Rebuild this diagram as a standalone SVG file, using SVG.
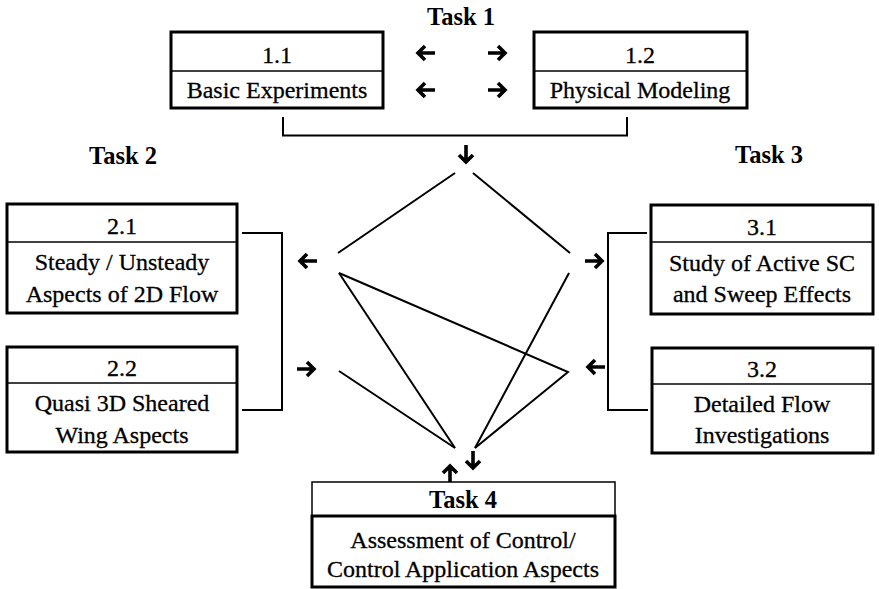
<svg xmlns="http://www.w3.org/2000/svg" xmlns:xlink="http://www.w3.org/1999/xlink" width="879" height="589" viewBox="0 0 879 589">
<style>
  .box{fill:#fff;stroke:#000;stroke-width:3}
  .thin{fill:#fff;stroke:#000;stroke-width:1.5}
  .div{stroke:#000;stroke-width:1.5}
  .t{font-size:24px;fill:#000;stroke:#000;stroke-width:0.3;text-anchor:middle}
  .b{font-size:24.5px;font-weight:bold;fill:#000;text-anchor:middle}
  .ln{fill:none;stroke:#000;stroke-width:2}
  .ar{fill:none;stroke:#000;stroke-width:3.6;stroke-linejoin:miter}
</style>
<defs>
  <path id="arr" class="ar" d="M-10,0 H6 M0,-7 L7,0 L0,7"/>
</defs>
<rect width="879" height="589" fill="#fff"/>

<text class="b" font-family="Liberation Serif, serif" x="461" y="25">Task 1</text>
<text class="b" font-family="Liberation Serif, serif" x="123" y="164">Task 2</text>
<text class="b" font-family="Liberation Serif, serif" x="769" y="163">Task 3</text>

<g id="n11">
  <rect class="box" x="171" y="32" width="212" height="76"/>
  <line class="div" x1="171" y1="71" x2="383" y2="71"/>
  <text class="t" font-family="Liberation Serif, serif" x="277" y="63">1.1</text>
  <text class="t" font-family="Liberation Serif, serif" x="277" y="98">Basic Experiments</text>
</g>
<g id="n12">
  <rect class="box" x="534" y="32" width="213" height="76"/>
  <line class="div" x1="534" y1="71" x2="747" y2="71"/>
  <text class="t" font-family="Liberation Serif, serif" x="640" y="63">1.2</text>
  <text class="t" font-family="Liberation Serif, serif" x="640" y="98">Physical Modeling</text>
</g>
<g id="n21">
  <rect class="box" x="7" y="204" width="230" height="109"/>
  <line class="div" x1="7" y1="242" x2="237" y2="242"/>
  <text class="t" font-family="Liberation Serif, serif" x="122" y="234">2.1</text>
  <text class="t" font-family="Liberation Serif, serif" x="122" y="270">Steady / Unsteady</text>
  <text class="t" font-family="Liberation Serif, serif" x="122" y="302">Aspects of 2D Flow</text>
</g>
<g id="n22">
  <rect class="box" x="7" y="347" width="230" height="105"/>
  <line class="div" x1="7" y1="383" x2="237" y2="383"/>
  <text class="t" font-family="Liberation Serif, serif" x="122" y="376">2.2</text>
  <text class="t" font-family="Liberation Serif, serif" x="122" y="411">Quasi 3D Sheared</text>
  <text class="t" font-family="Liberation Serif, serif" x="122" y="443">Wing Aspects</text>
</g>
<g id="n31">
  <rect class="box" x="651" y="205" width="222" height="109"/>
  <line class="div" x1="651" y1="242" x2="873" y2="242"/>
  <text class="t" font-family="Liberation Serif, serif" x="762" y="235">3.1</text>
  <text class="t" font-family="Liberation Serif, serif" x="762" y="271">Study of Active SC</text>
  <text class="t" font-family="Liberation Serif, serif" x="762" y="302">and Sweep Effects</text>
</g>
<g id="n32">
  <rect class="box" x="652" y="348" width="221" height="105"/>
  <line class="div" x1="652" y1="384" x2="873" y2="384"/>
  <text class="t" font-family="Liberation Serif, serif" x="762" y="377">3.2</text>
  <text class="t" font-family="Liberation Serif, serif" x="762" y="412">Detailed Flow</text>
  <text class="t" font-family="Liberation Serif, serif" x="762" y="443">Investigations</text>
</g>
<g id="n4">
  <rect class="thin" x="312" y="482" width="303" height="34"/>
  <rect class="box" x="312" y="516" width="303" height="71"/>
  <text class="b" font-family="Liberation Serif, serif" x="463" y="508">Task 4</text>
  <text class="t" font-family="Liberation Serif, serif" x="463" y="548">Assessment of Control/</text>
  <text class="t" font-family="Liberation Serif, serif" x="463" y="577">Control Application Aspects</text>
</g>

<g id="connectors">
  <path class="ln" d="M283,117 V135.5 H627 V117"/>
  <path class="ln" d="M242,233 H282 V410 H242"/>
  <path class="ln" d="M647,233 H608 V410 H648"/>
  <path class="ln" d="M455,173 L338,253"/>
  <path class="ln" d="M473,173 L570,253"/>
  <path class="ln" d="M339,273 L455,448"/>
  <path class="ln" d="M339,273 L568,372 L475,448"/>
  <path class="ln" d="M569,273 L475,448"/>
  <path class="ln" d="M339,371 L455,448"/>

  <use xlink:href="#arr" transform="translate(425,53) rotate(180)"/>
  <use xlink:href="#arr" transform="translate(425,90) rotate(180)"/>
  <use xlink:href="#arr" transform="translate(498,53)"/>
  <use xlink:href="#arr" transform="translate(498,90)"/>
  <use xlink:href="#arr" transform="translate(466,155) rotate(90)"/>
  <use xlink:href="#arr" transform="translate(307,261) rotate(180)"/>
  <use xlink:href="#arr" transform="translate(307,369)"/>
  <use xlink:href="#arr" transform="translate(595,261)"/>
  <use xlink:href="#arr" transform="translate(595,367) rotate(180)"/>
  <path class="ar" d="M450,482 V466 M443,473 L450,466 L457,473"/>
  <use xlink:href="#arr" transform="translate(473,461) rotate(90)"/>
</g>
</svg>
